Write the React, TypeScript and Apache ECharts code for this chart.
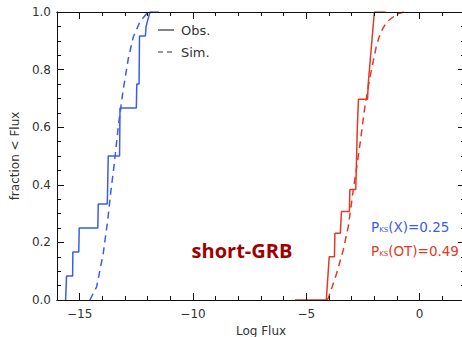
import React, { useEffect, useRef } from "react";
import * as echarts from "echarts";

// Blue: X-ray observed (step CDF vertices) and simulated
const blueObsX = [-15.62, -15.58, -15.31, -15.3, -15.04, -15.02, -14.2, -14.18, -13.78, -13.74, -13.24, -13.22, -12.5, -12.48, -12.38, -12.36, -12.1, -12.07, -11.9, -11.5];
const blueObsY = [0, 0.083, 0.083, 0.167, 0.167, 0.25, 0.25, 0.333, 0.333, 0.5, 0.5, 0.667, 0.667, 0.75, 0.75, 0.917, 0.917, 0.95, 1.0, 1.0];
const blueSimX = [-14.55, -14.25, -13.96, -13.76, -13.62, -13.47, -13.3, -13.08, -12.85, -12.63, -12.34, -12.04, -11.8];
const blueSimY = [0, 0.046, 0.162, 0.278, 0.38, 0.475, 0.6, 0.73, 0.84, 0.914, 0.966, 0.995, 1.0];

// Red: optical (OT) observed and simulated
const redObsX = [-5.5, -4.12, -3.99, -3.76, -3.74, -3.5, -3.45, -3.1, -3.08, -2.82, -2.75, -2.7, -2.3, -2.27, -2.0, -1.5];
const redObsY = [0, 0, 0.15, 0.15, 0.232, 0.232, 0.307, 0.307, 0.384, 0.384, 0.6, 0.697, 0.697, 0.75, 1.0, 1.0];
const redSimX = [-4.1, -4.03, -3.66, -3.37, -3.15, -2.93, -2.78, -2.6, -2.42, -2.19, -1.9, -1.72, -1.46, -1.0, -0.7];
const redSimY = [0, 0.006, 0.093, 0.174, 0.255, 0.382, 0.46, 0.56, 0.67, 0.775, 0.885, 0.93, 0.965, 0.993, 1.0];

const xMajorTicks = [-15, -10, -5, 0];
const xMinorTicks = [-16, -14, -13, -12, -11, -9, -8, -7, -6, -4, -3, -2, -1, 1, 2];
const legendLabels = ["Obs.", "Sim."];
const pksX = "0.25";
const pksOT = "0.49";

const BLUE = "#3a5cf0";
const RED = "#e03a24";
const AXIS = "#111";
const TXT = "#333";
const FONT = "DejaVu Sans";

const pairs = (xs: number[], ys: number[]) => xs.map((x, i) => [x, ys[i]]);

export default function App() {
  const ref = useRef<HTMLDivElement>(null);
  useEffect(() => {
    if (!ref.current) return;
    const chart = echarts.init(ref.current, null, { renderer: "svg" });
    const gridLeft = 57, gridTop = 12, gridW = 408, gridH = 288;
    const xBase = {
      type: "value" as const,
      min: -16,
      max: 2,
      gridIndex: 0,
      splitLine: { show: false },
      z: 5,
      axisLine: { show: true, onZero: false, lineStyle: { color: AXIS, width: 1 } },
    };
    const yBase = {
      type: "value" as const,
      min: 0,
      max: 1,
      interval: 0.2,
      splitLine: { show: false },
      z: 5,
      axisLine: { show: true, onZero: false, lineStyle: { color: AXIS, width: 1 } },
    };
    const pks = (color: string, label: string, val: string) => ({
      text: `{p|P}{s|KS}{n|(${label})=${val}}`,
      verticalAlign: "middle",
      rich: {
        p: { fill: color, fontFamily: FONT, fontSize: 13.5 },
        s: { fill: color, fontFamily: FONT, fontSize: 7, padding: [6, 0, 0, 0] },
        n: { fill: color, fontFamily: FONT, fontSize: 13.5 },
      },
    });
    const option: any = {
      animation: false,
      grid: { left: gridLeft, top: gridTop, width: gridW, height: gridH, outerBoundsMode: "none", containLabel: false },
      xAxis: [
        {
          ...xBase,
          position: "bottom",
          name: "Log Flux",
          nameLocation: "middle",
          nameGap: 20,
          nameTextStyle: { color: TXT, fontFamily: FONT, fontSize: 12 },
          axisTick: { show: true, inside: true, length: 7, customValues: xMajorTicks, lineStyle: { color: AXIS } },
          axisLabel: {
            show: true,
            customValues: xMajorTicks,
            margin: 8,
            color: TXT,
            fontFamily: FONT,
            fontSize: 12,
            formatter: (v: number) => String(v).replace("-", "\u2212"),
          },
        },
        {
          ...xBase,
          position: "bottom",
          axisTick: { show: true, inside: true, length: 4, customValues: xMinorTicks, lineStyle: { color: AXIS } },
          axisLabel: { show: false },
        },
        {
          ...xBase,
          position: "top",
          axisTick: { show: true, inside: true, length: 7, customValues: xMajorTicks, lineStyle: { color: AXIS } },
          axisLabel: { show: false },
        },
        {
          ...xBase,
          position: "top",
          axisTick: { show: true, inside: true, length: 4, customValues: xMinorTicks, lineStyle: { color: AXIS } },
          axisLabel: { show: false },
        },
      ],
      yAxis: [
        {
          ...yBase,
          position: "left",
          name: "fraction < Flux",
          nameLocation: "middle",
          nameGap: 33,
          nameRotate: 90,
          nameTextStyle: { color: TXT, fontFamily: FONT, fontSize: 12 },
          axisTick: { show: true, inside: true, length: 7, lineStyle: { color: AXIS } },
          minorTick: { show: true, splitNumber: 4, length: 4, lineStyle: { color: AXIS } },
          axisLabel: {
            show: true,
            margin: 6,
            color: TXT,
            fontFamily: FONT,
            fontSize: 12,
            formatter: (v: number) => v.toFixed(1),
          },
        },
        {
          ...yBase,
          position: "right",
          axisTick: { show: true, inside: true, length: 7, lineStyle: { color: AXIS } },
          minorTick: { show: true, splitNumber: 4, length: 4, lineStyle: { color: AXIS } },
          axisLabel: { show: false },
        },
      ],
      series: [
        { type: "line", data: pairs(blueObsX, blueObsY), showSymbol: false, lineStyle: { color: BLUE, width: 1.5 }, z: 2 },
        { type: "line", data: pairs(blueSimX, blueSimY), showSymbol: false, lineStyle: { color: BLUE, width: 1.5, type: [7, 5] }, z: 2 },
        { type: "line", data: pairs(redObsX, redObsY), showSymbol: false, lineStyle: { color: RED, width: 1.5 }, z: 2 },
        { type: "line", data: pairs(redSimX, redSimY), showSymbol: false, lineStyle: { color: RED, width: 1.5, type: [7, 5] }, z: 2 },
      ],
      graphic: [
        { type: "line", shape: { x1: 158, y1: 30, x2: 174, y2: 30 }, style: { stroke: TXT, lineWidth: 1.2 } },
        { type: "text", x: 181, y: 30, style: { text: legendLabels[0], fill: TXT, font: `13px '${FONT}'`, verticalAlign: "middle" } },
        { type: "line", shape: { x1: 158, y1: 52, x2: 174, y2: 52 }, style: { stroke: TXT, lineWidth: 1.2, lineDash: [5, 4] } },
        { type: "text", x: 181, y: 52, style: { text: legendLabels[1], fill: TXT, font: `13px '${FONT}'`, verticalAlign: "middle" } },
        {
          type: "text",
          x: 242,
          y: 250,
          style: { text: "short-GRB", fill: "#a00000", font: "bold 20px 'Open Sans'", align: "center", verticalAlign: "middle" },
        },
        { type: "text", x: 371, y: 227, style: pks(BLUE, "X", pksX) },
        { type: "text", x: 371, y: 251, style: pks(RED, "OT", pksOT) },
      ],
    };
    chart.setOption(option);
    return () => chart.dispose();
  }, []);
  return (
    <div
      ref={ref}
      style={{ position: "fixed", left: 0, top: 0, width: 462, height: 337, overflow: "hidden", background: "#fff" }}
    />
  );
}
